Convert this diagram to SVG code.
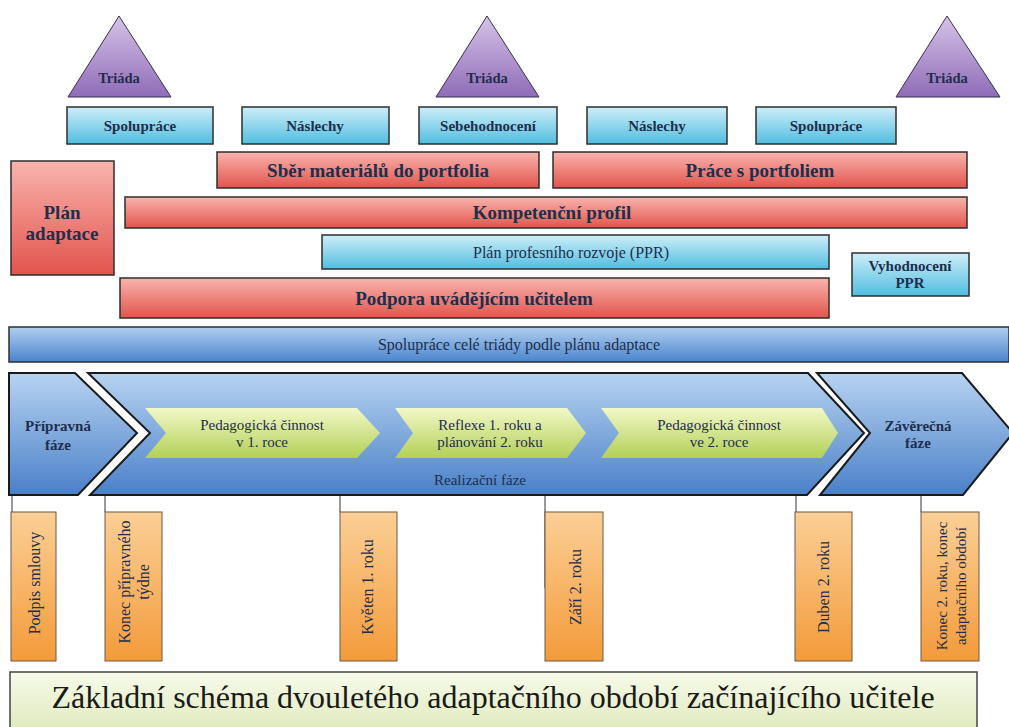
<svg xmlns="http://www.w3.org/2000/svg" width="1009" height="727" viewBox="0 0 1009 727">
<defs>
<linearGradient id="gPurple" x1="0" y1="0" x2="0" y2="1"><stop offset="0" stop-color="#d6c3e8"/><stop offset="1" stop-color="#8f6cb8"/></linearGradient>
<linearGradient id="gCyan" x1="0" y1="0" x2="0" y2="1"><stop offset="0" stop-color="#cdeef8"/><stop offset="1" stop-color="#52bde0"/></linearGradient>
<linearGradient id="gRed" x1="0" y1="0" x2="0" y2="1"><stop offset="0" stop-color="#f9b4ae"/><stop offset="1" stop-color="#e2544c"/></linearGradient>
<linearGradient id="gBlue" x1="0" y1="0" x2="0" y2="1"><stop offset="0" stop-color="#b1cff0"/><stop offset="1" stop-color="#4a84cc"/></linearGradient>
<linearGradient id="gChev" x1="0" y1="0" x2="0" y2="1"><stop offset="0" stop-color="#b7d3f1"/><stop offset="1" stop-color="#4a80c8"/></linearGradient>
<linearGradient id="gGreen" x1="0" y1="0" x2="0" y2="1"><stop offset="0" stop-color="#f2f8c8"/><stop offset="1" stop-color="#b3d056"/></linearGradient>
<linearGradient id="gOrange" x1="0" y1="0" x2="0" y2="1"><stop offset="0" stop-color="#fbcf96"/><stop offset="1" stop-color="#f39b3a"/></linearGradient>
<linearGradient id="gTitle" x1="0" y1="0" x2="0" y2="1"><stop offset="0" stop-color="#f7faea"/><stop offset="1" stop-color="#dfeabc"/></linearGradient>
</defs>
<style>
text{font-family:"Liberation Serif","DejaVu Serif",serif;fill:#1f2e4c;text-anchor:middle}
.b{font-weight:bold}
.box{stroke:#2e2e2e;stroke-width:1.5}
.tri{fill:url(#gPurple);stroke:#3a3050;stroke-width:1}
.cyan{fill:url(#gCyan)}
.red{fill:url(#gRed)}
.org{fill:url(#gOrange);stroke:#6b5a48;stroke-width:1}
.chev{fill:url(#gChev);stroke:#1a1a1a;stroke-width:2;stroke-linejoin:miter}
.grn{fill:url(#gGreen);stroke:none}
.tr{font-size:14.5px;font-weight:bold}
.tb{font-size:15px;font-weight:bold}
.rb{font-size:19px;font-weight:bold}
.m{font-size:16px}
.c{font-size:15px}
.o{font-size:16px}
.o2{font-size:15px}
.ln{stroke:#333;stroke-width:1;fill:none}
</style>

<g id="connectors">
<line class="ln" x1="12" y1="495" x2="12" y2="512"/>
<line class="ln" x1="105" y1="495" x2="105" y2="512"/>
<line class="ln" x1="340" y1="495" x2="340" y2="512"/>
<line class="ln" x1="545" y1="495" x2="545" y2="588"/>
<line class="ln" x1="796" y1="495" x2="796" y2="512"/>
<line class="ln" x1="921" y1="495" x2="921" y2="512"/>
</g>

<g id="triada1"><polygon class="tri" points="119,16 68,97 171,97"/><text class="tr" x="119" y="83">Triáda</text></g>
<g id="triada2"><polygon class="tri" points="487,16 436,97 539,97"/><text class="tr" x="487" y="83">Triáda</text></g>
<g id="triada3"><polygon class="tri" points="947,16 896,97 1000,97"/><text class="tr" x="947" y="83">Triáda</text></g>

<g id="spoluprace1"><rect class="box cyan" x="67" y="107" width="146" height="37"/><text class="tb" x="140" y="131">Spolupráce</text></g>
<g id="naslechy1"><rect class="box cyan" x="242" y="107" width="147" height="37"/><text class="tb" x="315" y="131">Náslechy</text></g>
<g id="sebehodnoceni"><rect class="box cyan" x="419" y="107" width="138" height="37"/><text class="tb" x="488" y="131">Sebehodnocení</text></g>
<g id="naslechy2"><rect class="box cyan" x="587" y="107" width="140" height="37"/><text class="tb" x="657" y="131">Náslechy</text></g>
<g id="spoluprace2"><rect class="box cyan" x="756" y="107" width="140" height="37"/><text class="tb" x="826" y="131">Spolupráce</text></g>

<g id="plan-adaptace"><rect class="box red" x="11" y="161" width="103" height="114"/><text class="rb" x="62" y="219">Plán</text><text class="rb" x="62" y="240">adaptace</text></g>
<g id="sber"><rect class="box red" x="217" y="152" width="322" height="36"/><text class="rb" x="378" y="177">Sběr materiálů do portfolia</text></g>
<g id="prace"><rect class="box red" x="553" y="152" width="414" height="36"/><text class="rb" x="760" y="177">Práce s portfoliem</text></g>
<g id="kompetencni"><rect class="box red" x="125" y="197" width="842" height="31"/><text class="rb" x="552" y="219">Kompetenční profil</text></g>
<g id="ppr"><rect class="box cyan" x="322" y="235" width="507" height="34"/><text class="m" x="571" y="258">Plán profesního rozvoje (PPR)</text></g>
<g id="vyhodnoceni"><rect class="box cyan" x="852" y="253" width="117" height="43"/><text class="tb" x="910" y="271">Vyhodnocení</text><text class="tb" x="910" y="288">PPR</text></g>
<g id="podpora"><rect class="box red" x="120" y="278" width="709" height="40"/><text class="rb" x="474" y="305">Podpora uvádějícím učitelem</text></g>
<g id="spoluprace-triady"><rect class="box" fill="url(#gBlue)" x="9" y="327" width="1000" height="35"/><text class="m" x="519" y="350">Spolupráce celé triády podle plánu adaptace</text></g>

<g id="pripravna"><path class="chev" d="M9,373 L75,373 L137,433 L78,495 L9,495 Z"/><text class="c b" x="58" y="431">Přípravná</text><text class="c b" x="58" y="450">fáze</text></g>
<g id="realizacni"><path class="chev" d="M88,373 L808,373 L864,433 L807,495 L90,495 L150,433 Z"/><text class="c" x="480" y="485">Realizační fáze</text></g>
<g id="zaverecna"><path class="chev" d="M817,373 L962,373 L1013,433 L963,495 L820,495 L870,433 Z"/><text class="c b" x="918" y="431">Závěrečná</text><text class="c b" x="918" y="448">fáze</text></g>

<g id="ped1"><path class="grn" d="M145,408 L357,408 L380,433 L357,458 L145,458 L166,433 Z"/><text class="c" x="262" y="430">Pedagogická činnost</text><text class="c" x="262" y="447">v 1. roce</text></g>
<g id="reflexe"><path class="grn" d="M395,408 L567,408 L586,433 L567,458 L395,458 L413,433 Z"/><text class="c" x="490" y="430">Reflexe 1. roku a</text><text class="c" x="490" y="447">plánování 2. roku</text></g>
<g id="ped2"><path class="grn" d="M601,408 L822,408 L838,433 L822,458 L601,458 L619,433 Z"/><text class="c" x="719" y="430">Pedagogická činnost</text><text class="c" x="719" y="447">ve 2. roce</text></g>

<g id="podpis"><rect class="org" x="11" y="512" width="45" height="149"/><text class="o" transform="translate(40,583) rotate(-90)">Podpis smlouvy</text></g>
<g id="konec-pripravneho"><rect class="org" x="105" y="512" width="57" height="149"/><text class="o" transform="translate(130,582) rotate(-90)">Konec přípravného</text><text class="o" transform="translate(149,582) rotate(-90)">týdne</text></g>
<g id="kveten"><rect class="org" x="340" y="512" width="57" height="149"/><text class="o" transform="translate(373,587) rotate(-90)">Květen 1. roku</text></g>
<g id="zari"><rect class="org" x="545" y="512" width="58" height="149"/><text class="o" transform="translate(581,587) rotate(-90)">Září 2. roku</text></g>
<g id="duben"><rect class="org" x="795" y="512" width="57" height="149"/><text class="o" transform="translate(829,587) rotate(-90)">Duben 2. roku</text></g>
<g id="konec-2"><rect class="org" x="921" y="512" width="58" height="149"/><text class="o2" transform="translate(947,586) rotate(-90)">Konec 2. roku, konec</text><text class="o2" transform="translate(966,586) rotate(-90)">adaptačního období</text></g>

<g id="title"><rect x="10" y="672" width="967" height="60" fill="url(#gTitle)" stroke="#444" stroke-width="1.5"/><text x="493" y="708" style="font-size:32px;fill:#1a1a1a">Základní schéma dvouletého adaptačního období začínajícího učitele</text></g>
</svg>
